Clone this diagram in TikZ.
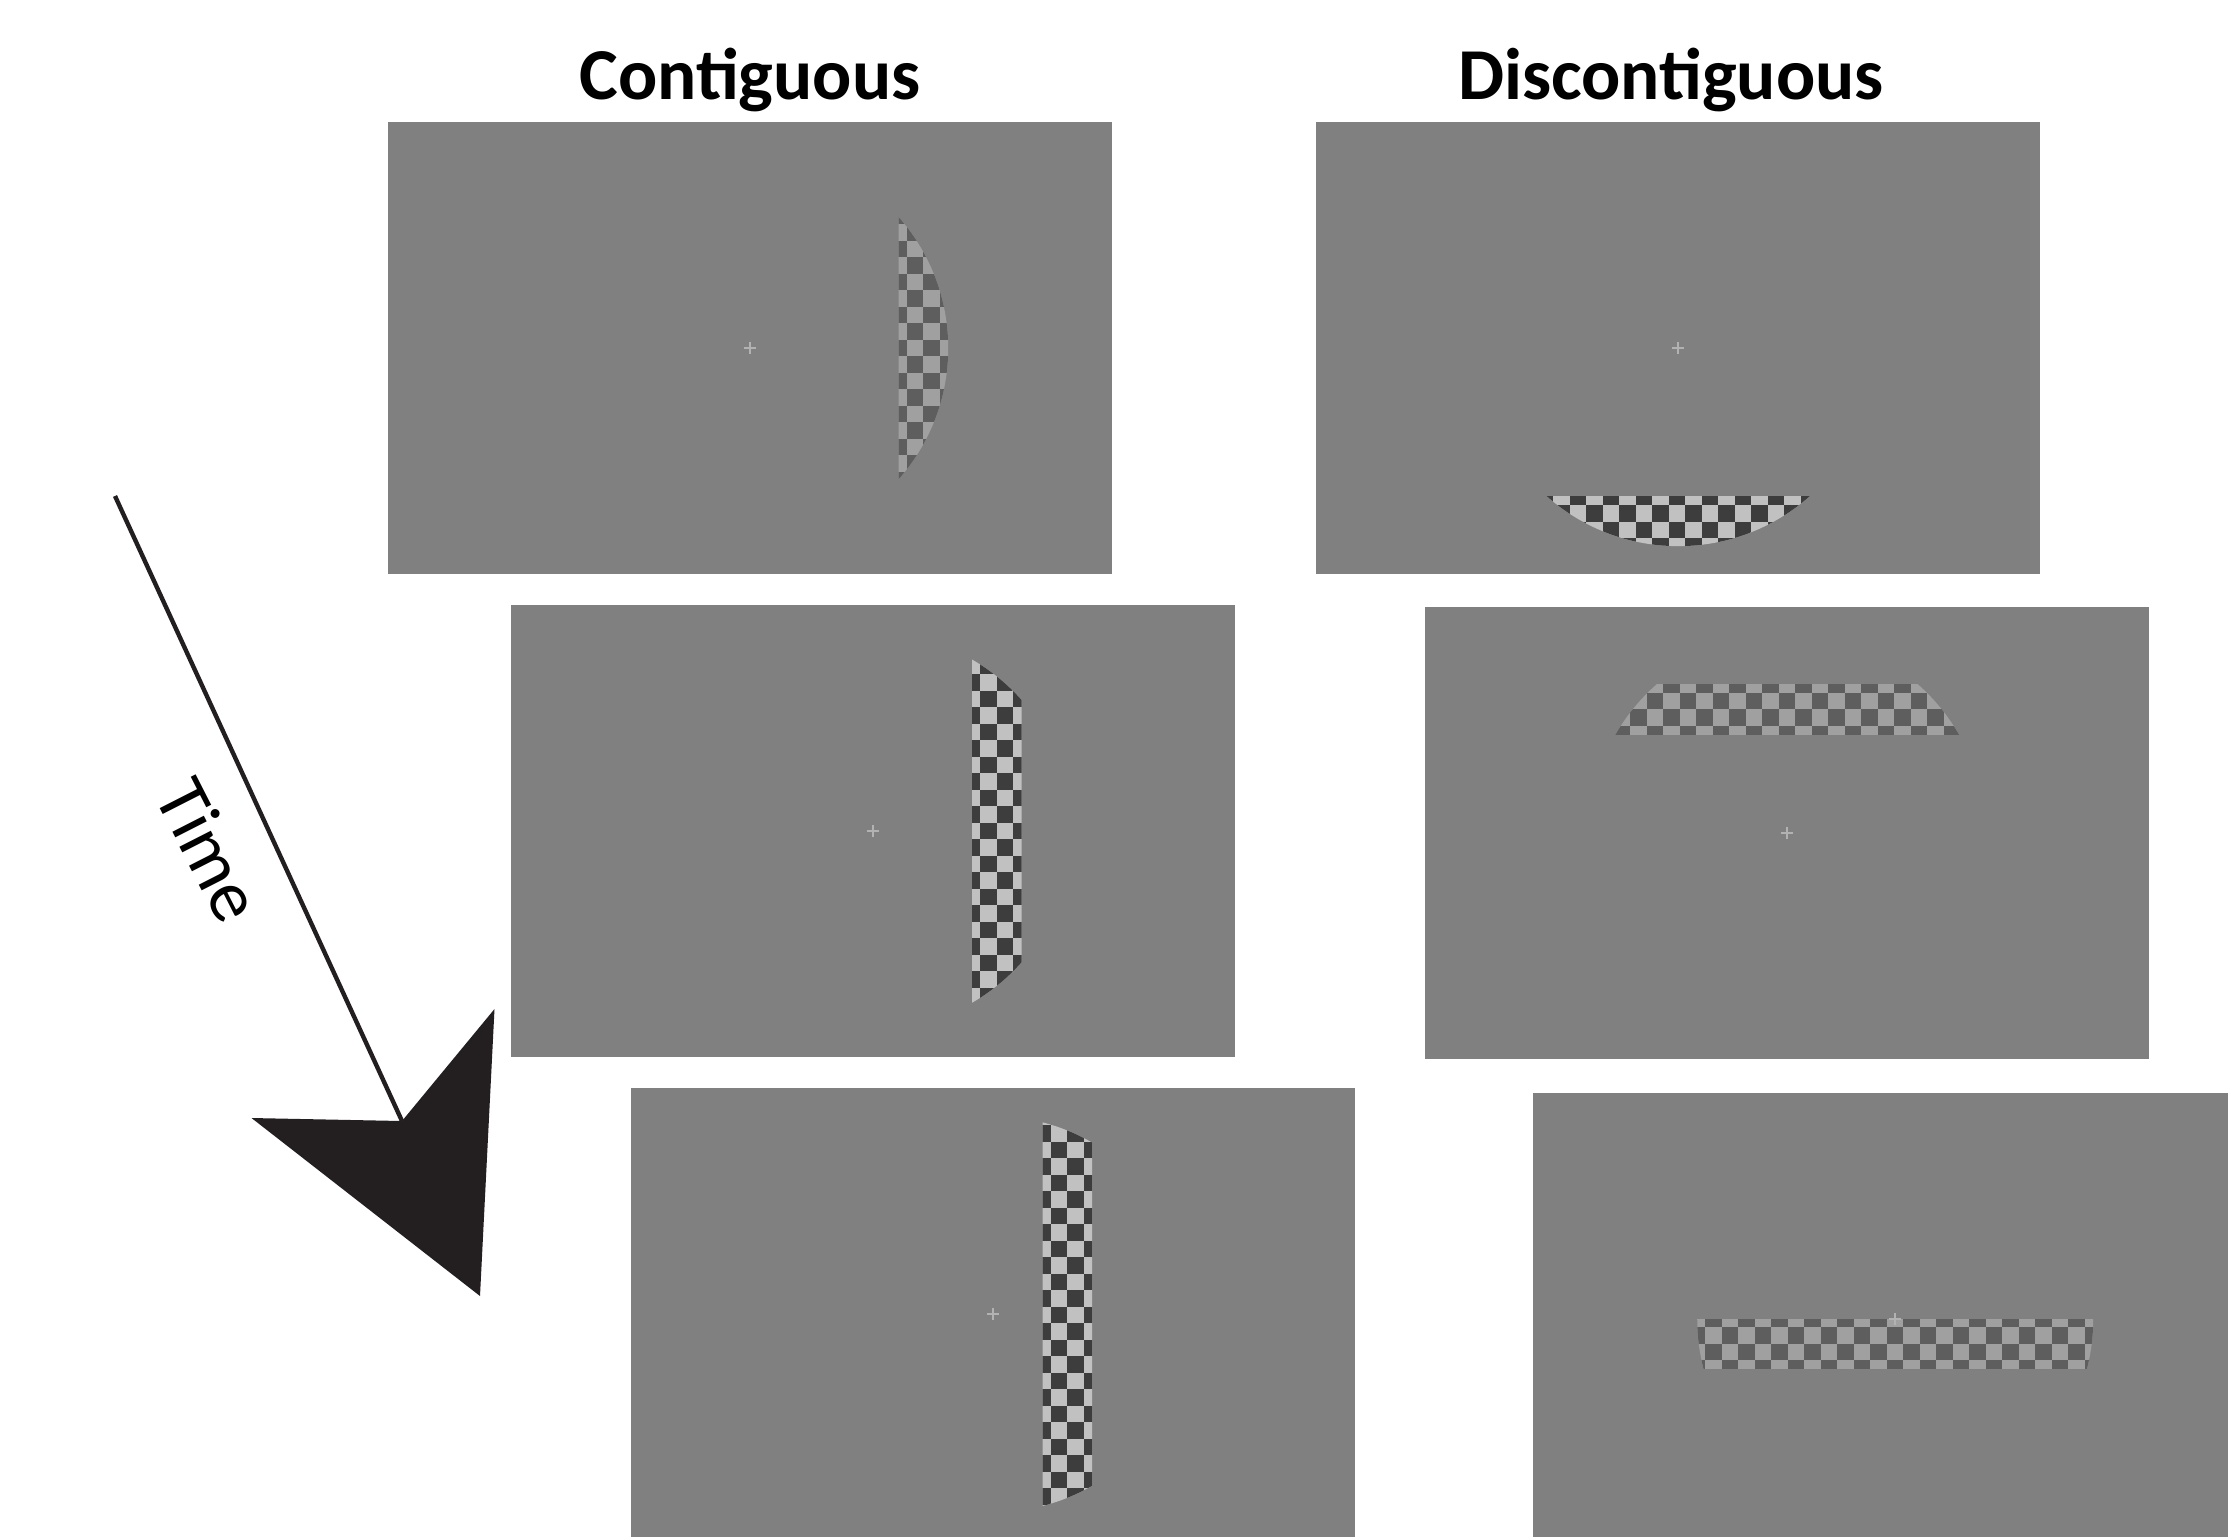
\documentclass[tikz,border=0pt]{standalone}
\usepackage{fontspec}
\setmainfont{Carlito}
\usepackage{tikz}
\definecolor{screen}{RGB}{128,128,128}
\definecolor{lodark}{RGB}{94,94,94}
\definecolor{lolight}{RGB}{160,160,160}
\definecolor{hidark}{RGB}{61,61,61}
\definecolor{hilight}{RGB}{193,193,193}
\definecolor{fixgray}{RGB}{178,178,178}
\definecolor{ink}{RGB}{35,31,32}
% checkerboard: origin x, origin y, columns, rows, dark, light
\newcommand{\checkgrid}[6]{%
  \fill[#6] (#1,#2) rectangle ++(#3*16.5+16.5,#4*16.5+16.5);
  \foreach \ci in {0,...,#3}
    \foreach \cj in {0,...,#4}{%
      \pgfmathtruncatemacro{\chkpar}{mod(\ci+\cj,2)}%
      \ifnum\chkpar=0 \fill[#5] (#1+\ci*16.5,#2+\cj*16.5) rectangle ++(16.5,16.5);\fi
    }}
\newcommand{\fixmark}[1]{\draw[fixcross] (#1.center) ++(-6,0) -- ++(12,0) (#1.center) ++(0,-6) -- ++(0,12);}

\begin{document}
\begin{tikzpicture}[x=0.01cm,y=-0.01cm,
  panel/.style={fill=screen,draw=none,inner sep=0pt,outer sep=0pt,
    minimum width=7.24cm,minimum height=4.52cm,anchor=north west},
  fixcross/.style={fixgray,line width=0.45pt},
  heading/.style={font=\fontsize{20.8pt}{25pt}\selectfont\bfseries,inner sep=0pt,anchor=base},
  timeline/.style={ink,line width=1.25pt}]
  \clip (0,0) rectangle (2228,1536);
  \fill[white] (0,0) rectangle (2228,1536);
  % headings
  \node[heading] (ttlcont) at (750,99) {Contiguous};
  \node[heading] (ttldisc) at (1671,99) {Discontiguous};
  % screens
  \node[panel] (c1) at (388,122) {};
  \node[panel] (c2) at (511,605) {};
  \node[panel] (c3) at (631,1088) {};
  \node[panel] (d1) at (1316,122) {};
  \node[panel] (d2) at (1425,607) {};
  \node[panel] (d3) at (1533,1093) {};
  % contiguous bands
  \begin{scope}
    \clip (c1.center) circle[radius=198];
    \clip (898.5,100) rectangle (960,600);
    \checkgrid{890.2}{207.5}{4}{17}{lodark}{lolight}
  \end{scope}
  \begin{scope}
    \clip (c2.center) circle[radius=198];
    \clip (972,600) rectangle (1021.5,1060);
    \checkgrid{947}{657.5}{5}{21}{hidark}{hilight}
  \end{scope}
  \begin{scope}
    \clip (c3.center) circle[radius=198];
    \clip (1042.5,1100) rectangle (1092,1536);
    \checkgrid{1017.7}{1108.7}{5}{25}{hidark}{hilight}
  \end{scope}
  % discontiguous bands
  \begin{scope}
    \clip (d1.center) circle[radius=198];
    \clip (1450,496.5) rectangle (1900,546);
    \checkgrid{1536.8}{488.5}{17}{4}{hidark}{hilight}
  \end{scope}
  \begin{scope}
    \clip (d2.center) circle[radius=198];
    \clip (1550,684.5) rectangle (2050,734);
    \checkgrid{1597.2}{676.2}{22}{4}{lodark}{lolight}
  \end{scope}
  \begin{scope}
    \clip (d3.center) circle[radius=198];
    \clip (1650,1319) rectangle (2150,1368.5);
    \checkgrid{1672}{1310.8}{26}{4}{lodark}{lolight}
  \end{scope}
  % fixation
  \fixmark{c1} \fixmark{c2} \fixmark{c3}
  \fixmark{d1} \fixmark{d2} \fixmark{d3}
  % time arrow
  \coordinate (tstart) at (115,496);
  \coordinate (tnotch) at (402,1121);
  \draw[timeline] (tstart) -- (tnotch);
  \fill[ink] (251.5,1118) -- (tnotch) -- (494.5,1009) -- (480,1296) -- cycle;
  \node[rotate=-63,font=\fontsize{21pt}{25pt}\selectfont] (timelbl) at (210,850) {Time};
\end{tikzpicture}
\end{document}
